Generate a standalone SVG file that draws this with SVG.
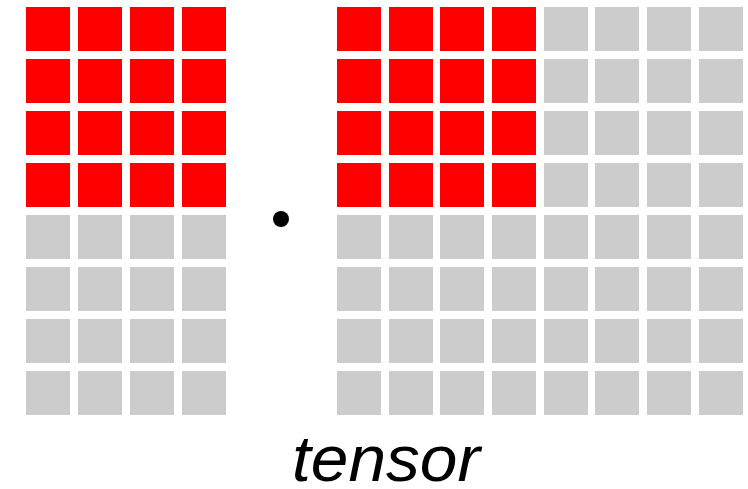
<svg xmlns="http://www.w3.org/2000/svg" width="748" height="489" viewBox="0 0 748 489">
<style>
.r{fill:#ff0000}
.g{fill:#cccccc}
.t{font-family:"Liberation Sans",Arial,sans-serif;font-style:italic;font-size:64px;fill:#000}
</style>
<defs>
<rect id="c" width="44" height="44"/>
</defs>
<rect width="748" height="489" fill="#fff"/>
<g id="left-matrix">
<use href="#c" class="r" x="26" y="7"/><use href="#c" class="r" x="78" y="7"/><use href="#c" class="r" x="130" y="7"/><use href="#c" class="r" x="182" y="7"/>
<use href="#c" class="r" x="26" y="59"/><use href="#c" class="r" x="78" y="59"/><use href="#c" class="r" x="130" y="59"/><use href="#c" class="r" x="182" y="59"/>
<use href="#c" class="r" x="26" y="111"/><use href="#c" class="r" x="78" y="111"/><use href="#c" class="r" x="130" y="111"/><use href="#c" class="r" x="182" y="111"/>
<use href="#c" class="r" x="26" y="163"/><use href="#c" class="r" x="78" y="163"/><use href="#c" class="r" x="130" y="163"/><use href="#c" class="r" x="182" y="163"/>
<use href="#c" class="g" x="26" y="215"/><use href="#c" class="g" x="78" y="215"/><use href="#c" class="g" x="130" y="215"/><use href="#c" class="g" x="182" y="215"/>
<use href="#c" class="g" x="26" y="267"/><use href="#c" class="g" x="78" y="267"/><use href="#c" class="g" x="130" y="267"/><use href="#c" class="g" x="182" y="267"/>
<use href="#c" class="g" x="26" y="319"/><use href="#c" class="g" x="78" y="319"/><use href="#c" class="g" x="130" y="319"/><use href="#c" class="g" x="182" y="319"/>
<use href="#c" class="g" x="26" y="371"/><use href="#c" class="g" x="78" y="371"/><use href="#c" class="g" x="130" y="371"/><use href="#c" class="g" x="182" y="371"/>
</g>
<g id="dot">
<circle cx="281" cy="219" r="8" fill="#000"/>
</g>
<g id="right-matrix">
<g id="row0"><use href="#c" class="r" x="337" y="7"/><use href="#c" class="r" x="389" y="7"/><use href="#c" class="r" x="440" y="7"/><use href="#c" class="r" x="492" y="7"/><use href="#c" class="g" x="544" y="7"/><use href="#c" class="g" x="595" y="7"/><use href="#c" class="g" x="647" y="7"/><use href="#c" class="g" x="699" y="7"/></g>
<g id="row1"><use href="#c" class="r" x="337" y="59"/><use href="#c" class="r" x="389" y="59"/><use href="#c" class="r" x="440" y="59"/><use href="#c" class="r" x="492" y="59"/><use href="#c" class="g" x="544" y="59"/><use href="#c" class="g" x="595" y="59"/><use href="#c" class="g" x="647" y="59"/><use href="#c" class="g" x="699" y="59"/></g>
<g id="row2"><use href="#c" class="r" x="337" y="111"/><use href="#c" class="r" x="389" y="111"/><use href="#c" class="r" x="440" y="111"/><use href="#c" class="r" x="492" y="111"/><use href="#c" class="g" x="544" y="111"/><use href="#c" class="g" x="595" y="111"/><use href="#c" class="g" x="647" y="111"/><use href="#c" class="g" x="699" y="111"/></g>
<g id="row3"><use href="#c" class="r" x="337" y="163"/><use href="#c" class="r" x="389" y="163"/><use href="#c" class="r" x="440" y="163"/><use href="#c" class="r" x="492" y="163"/><use href="#c" class="g" x="544" y="163"/><use href="#c" class="g" x="595" y="163"/><use href="#c" class="g" x="647" y="163"/><use href="#c" class="g" x="699" y="163"/></g>
<g id="row4"><use href="#c" class="g" x="337" y="215"/><use href="#c" class="g" x="389" y="215"/><use href="#c" class="g" x="440" y="215"/><use href="#c" class="g" x="492" y="215"/><use href="#c" class="g" x="544" y="215"/><use href="#c" class="g" x="595" y="215"/><use href="#c" class="g" x="647" y="215"/><use href="#c" class="g" x="699" y="215"/></g>
<g id="row5"><use href="#c" class="g" x="337" y="267"/><use href="#c" class="g" x="389" y="267"/><use href="#c" class="g" x="440" y="267"/><use href="#c" class="g" x="492" y="267"/><use href="#c" class="g" x="544" y="267"/><use href="#c" class="g" x="595" y="267"/><use href="#c" class="g" x="647" y="267"/><use href="#c" class="g" x="699" y="267"/></g>
<g id="row6"><use href="#c" class="g" x="337" y="319"/><use href="#c" class="g" x="389" y="319"/><use href="#c" class="g" x="440" y="319"/><use href="#c" class="g" x="492" y="319"/><use href="#c" class="g" x="544" y="319"/><use href="#c" class="g" x="595" y="319"/><use href="#c" class="g" x="647" y="319"/><use href="#c" class="g" x="699" y="319"/></g>
<g id="row7"><use href="#c" class="g" x="337" y="371"/><use href="#c" class="g" x="389" y="371"/><use href="#c" class="g" x="440" y="371"/><use href="#c" class="g" x="492" y="371"/><use href="#c" class="g" x="544" y="371"/><use href="#c" class="g" x="595" y="371"/><use href="#c" class="g" x="647" y="371"/><use href="#c" class="g" x="699" y="371"/></g>
</g>
<g id="label">
<text class="t" x="292" y="481" textLength="188" lengthAdjust="spacingAndGlyphs">tensor</text>
</g>
</svg>
